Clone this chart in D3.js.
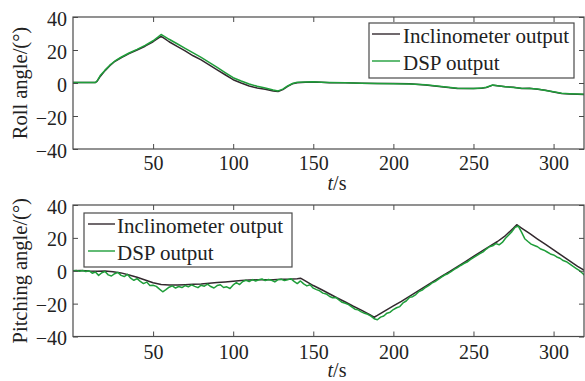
<!DOCTYPE html>
<html>
<head>
<meta charset="utf-8">
<script src="https://cdn.jsdelivr.net/npm/d3@7"></script>
<style>
  html, body { margin: 0; padding: 0; background: #fff; }
  svg { display: block; font-family: "Liberation Serif", "Times New Roman", serif; }
</style>
</head>
<body>
<svg id="chart" width="585" height="381"></svg>
<script>
// x ticks / y ticks
const xTicks = [50, 100, 150, 200, 250, 300];
const yTicks = [-40, -20, 0, 20, 40];
const seriesNames = ['Inclinometer output', 'DSP output'];

// roll angle (deg), both series on the same time stamps
const rollT = [0, 14, 15, 17, 20, 23, 26, 30, 35, 40, 45, 50, 53, 55, 57, 60, 65, 70, 75, 80,
  85, 90, 95, 100, 105, 110, 115, 120, 125, 128, 131, 134, 137, 140, 145, 150, 155, 160, 170, 180,
  190, 200, 210, 220, 230, 240, 250, 255, 258, 262, 265, 270, 275, 280, 285, 290, 295, 300, 305, 310,
  315, 319];
const rollIncl = [0.3, 0.3, 1, 4, 7.5, 10.5, 13, 15.3, 17.8, 20, 22.3, 25, 27, 28.3, 27, 25, 22.2, 19.5, 16.5, 14,
  11, 8, 5, 2, 0, -1.8, -3, -3.8, -4.8, -5.2, -4, -2, -0.5, 0.2, 0.5, 0.6, 0.4, 0.2, 0.1, -0.2,
  -0.3, -0.3, -0.5, -1.2, -2.2, -3.3, -3.3, -3.2, -2.8, -1.3, -1.6, -2.3, -2.6, -3.3, -3.2, -3.8, -4.4, -5.4, -6.3, -6.6,
  -6.8, -6.9];
const rollDsp = [0.3, 0.3, 1.2, 4.5, 7.8, 10.8, 13.2, 15.6, 18.2, 20.4, 22.8, 25.6, 27.8, 29.4, 28.3, 26.5, 23.8, 21, 18.2, 15.5,
  12.5, 9.5, 6.3, 3.2, 1.2, -0.6, -2, -3, -4.2, -4.8, -3.7, -1.8, -0.3, 0.4, 0.6, 0.7, 0.5, 0.3, 0.1, -0.1,
  -0.3, -0.4, -0.6, -1.1, -2.1, -3.2, -3.4, -3.1, -2.6, -1.2, -1.7, -2.2, -2.7, -3.2, -3.3, -3.7, -4.5, -5.3, -6.2, -6.5,
  -6.7, -6.8];

// pitching angle (deg), inclinometer
const pitchInclT = [0, 5, 10, 15, 20, 25, 30, 35, 40, 45, 50, 55, 60, 65, 70, 75, 80, 85, 90, 95,
  100, 105, 110, 115, 120, 125, 130, 135, 140, 142, 145, 150, 155, 160, 165, 170, 175, 180, 185, 188,
  190, 195, 200, 205, 210, 215, 220, 225, 230, 235, 240, 245, 250, 255, 260, 265, 270, 275, 277, 280,
  285, 290, 295, 300, 305, 310, 315, 320];
const pitchIncl = [0, 0.1, -0.2, -0.3, -0.2, -0.6, -1.3, -2.6, -4, -5.6, -7.3, -8.4, -8.6, -8.7, -8.5, -8.2, -8, -7.6, -7.2, -6.8,
  -6.4, -6, -5.7, -5.5, -5.4, -5.4, -5.2, -5.1, -4.8, -4.5, -6.2, -9, -11.4, -14, -16.6, -19, -21.6, -24, -26.6, -28.3,
  -27.2, -24.3, -21.4, -18.6, -15.6, -12.5, -9.5, -6.5, -3.5, -0.5, 2.5, 5.6, 8.7, 11.8, 14.8, 17.8, 21.4, 26, 28, 26,
  22.7, 19.3, 16, 12.7, 9.3, 6, 2.7, -0.2];

// pitching angle (deg), DSP
const pitchDspT = [0, 2, 4, 6, 8, 10, 12, 14, 16, 18, 20, 22, 24, 26, 28, 30, 32, 34, 36, 38,
  40, 42, 44, 46, 48, 50, 52, 54, 56, 58, 60, 62, 64, 66, 68, 70, 72, 74, 76, 78,
  80, 82, 84, 86, 88, 90, 92, 94, 96, 98, 100, 102, 104, 106, 108, 110, 112, 114, 116, 118,
  120, 122, 124, 126, 128, 130, 132, 134, 136, 138, 140, 142, 144, 146, 148, 150, 152, 154, 156, 158,
  160, 162, 164, 166, 168, 170, 172, 174, 176, 178, 180, 182, 184, 186, 188, 190, 192, 194, 196, 198,
  200, 202, 204, 206, 208, 210, 212, 214, 216, 218, 220, 222, 224, 226, 228, 230, 232, 234, 236, 238,
  240, 242, 244, 246, 248, 250, 252, 254, 256, 258, 260, 262, 264, 266, 268, 270, 272, 274, 276, 278,
  280, 282, 284, 286, 288, 290, 292, 294, 296, 298, 300, 302, 304, 306, 308, 310, 312, 314, 316, 318,
  320];
const pitchDsp = [0, 0.2, -0.3, 0.1, -0.5, 0,
  -1.5, -0.8, -2.8, -1.2, -0.5, -2.5, -3.2, -1.8, -1, -2.8,
  -3.5, -2.2, -4.5, -5.8, -4.8, -6.5, -7.8, -6.9, -9, -8.8,
  -9.5, -11.2, -12.8, -11.5, -10, -9.2, -10.5, -9.6, -10.2, -9,
  -9.8, -8.6, -9.5, -10.3, -8.8, -9.4, -8.2, -9.6, -10.5, -9,
  -8.5, -10.2, -9.8, -10.8, -8.6, -7.2, -8.4, -6.5, -5.8, -6.6,
  -5.4, -6.2, -5.5, -5, -6, -5.3, -5.8, -6.8, -5.4, -5.2,
  -6, -5.5, -4.8, -6.5, -7.8, -6.2, -8, -9.2, -8.5, -10.6,
  -11.5, -12.2, -13.6, -14.1, -15.5, -16.4, -16.2, -17.8, -19.2, -19.8,
  -20.6, -22, -23.4, -23.8, -25, -25.9, -26.5, -27.6, -29.2, -29.8,
  -28.2, -27.5, -25.8, -25.2, -23.6, -22.5, -21.8, -19.6, -18.4, -16.2,
  -15.8, -14.5, -12.6, -11.8, -10.2, -9.1, -7.5, -6.6, -5.2, -3.9,
  -2.6, -1.8, -0.6, 0.8, 1.9, 3.2, 4.4, 5.3, 6.8, 8,
  9.2, 10.4, 11.5, 13.2, 14.6, 15.2, 16.5, 15.8, 17.2, 19.8,
  21.8, 23.8, 26.4, 27.2, 23.5, 19.5, 17.8, 16.2, 15.4, 14.6,
  13.2, 12.5, 11.4, 10.2, 9.6, 8.4, 7.6, 6.2, 5.5, 4.2,
  2.8, 1.5, 0.2, -1.5, -3.4];

const inclColor = '#33292e';
const dspColor = '#1f9e3a';
const axisColor = '#4a4a4a';

const svg = d3.select('#chart');
const plotLeft = 73, plotRight = 584;
const x = d3.scaleLinear().domain([0, 319]).range([plotLeft, plotRight]);

const panels = [
  {
    id: 'roll', top: 17, bottom: 149, title: 'Roll angle/(°)', labelPad: 7, tsY: 190,
    series: [
      { t: rollT, v: rollIncl, color: inclColor },
      { t: rollT, v: rollDsp, color: dspColor }
    ],
    legend: { x: 369, y: 23, w: 205, h: 55, line0: 372, line1: 400, textX: 403 }
  },
  {
    id: 'pitch', top: 205, bottom: 336.5, title: 'Pitching angle/(°)', labelPad: 8, tsY: 377,
    series: [
      { t: pitchInclT, v: pitchIncl, color: inclColor },
      { t: pitchDspT, v: pitchDsp, color: dspColor }
    ],
    legend: { x: 84, y: 213, w: 208, h: 54, line0: 88, line1: 115, textX: 117 }
  }
];

panels.forEach(p => {
  const y = d3.scaleLinear().domain([-40, 40]).range([p.bottom, p.top]);
  const g = svg.append('g');

  g.append('clipPath').attr('id', 'clip-' + p.id)
    .append('rect')
    .attr('x', plotLeft).attr('y', p.top)
    .attr('width', plotRight - plotLeft).attr('height', p.bottom - p.top);

  const line = d3.line()
    .x(d => x(d[0]))
    .y(d => y(d[1]));

  p.series.forEach(s => {
    const pts = s.t.map((t, i) => [t, s.v[i]]);
    g.append('path')
      .datum(pts)
      .attr('clip-path', 'url(#clip-' + p.id + ')')
      .attr('fill', 'none')
      .attr('stroke', s.color)
      .attr('stroke-width', 1.5)
      .attr('stroke-linejoin', 'round')
      .attr('d', line);
  });

  // axes, MATLAB style: ticks inward on all four sides
  const xb = g.append('g').attr('transform', `translate(0,${p.bottom})`)
    .call(d3.axisBottom(x).tickValues(xTicks).tickSize(-5).tickPadding(p.labelPad));
  const xt = g.append('g').attr('transform', `translate(0,${p.top})`)
    .call(d3.axisTop(x).tickValues(xTicks).tickSize(-5).tickFormat(''));
  const yl = g.append('g').attr('transform', `translate(${plotLeft},0)`)
    .call(d3.axisLeft(y).tickValues(yTicks).tickSize(-5).tickPadding(6));
  const yr = g.append('g').attr('transform', `translate(${plotRight},0)`)
    .call(d3.axisRight(y).tickValues(yTicks).tickSize(-5).tickFormat(''));

  [xb, xt, yl, yr].forEach(a => {
    a.select('.domain').remove();
    a.selectAll('line').attr('stroke', axisColor);
    a.selectAll('text')
      .attr('fill', '#222')
      .style('font-size', '20px')
      .style('font-family', '"Liberation Serif", serif');
  });
  yl.selectAll('text').attr('dy', '0.4em');

  g.append('rect')
    .attr('x', plotLeft).attr('y', p.top)
    .attr('width', plotRight - plotLeft).attr('height', p.bottom - p.top)
    .attr('fill', 'none').attr('stroke', axisColor).attr('stroke-width', 1.2);

  // y title
  g.append('text')
    .attr('transform', `translate(27,${(p.top + p.bottom) / 2}) rotate(-90)`)
    .attr('text-anchor', 'middle')
    .attr('fill', '#222')
    .style('font-size', '20.5px')
    .text(p.title);

  // x title
  const xt2 = g.append('text')
    .attr('x', 337).attr('y', p.tsY)
    .attr('text-anchor', 'middle')
    .attr('fill', '#222')
    .style('font-size', '20px');
  xt2.append('tspan').style('font-style', 'italic').text('t');
  xt2.append('tspan').text('/s');

  // legend
  const L = p.legend;
  const lg = g.append('g');
  lg.append('rect')
    .attr('x', L.x).attr('y', L.y).attr('width', L.w).attr('height', L.h)
    .attr('fill', '#fff').attr('stroke', axisColor).attr('stroke-width', 1.2);
  seriesNames.forEach((name, i) => {
    const rowY = L.y + 11 + i * 27;
    lg.append('line')
      .attr('x1', L.line0).attr('x2', L.line1)
      .attr('y1', rowY).attr('y2', rowY)
      .attr('stroke', p.series[i].color).attr('stroke-width', 1.4);
    lg.append('text')
      .attr('x', L.textX).attr('y', rowY + 9)
      .attr('fill', '#222')
      .style('font-size', '21px')
      .text(name);
  });
});
</script>
</body>
</html>
